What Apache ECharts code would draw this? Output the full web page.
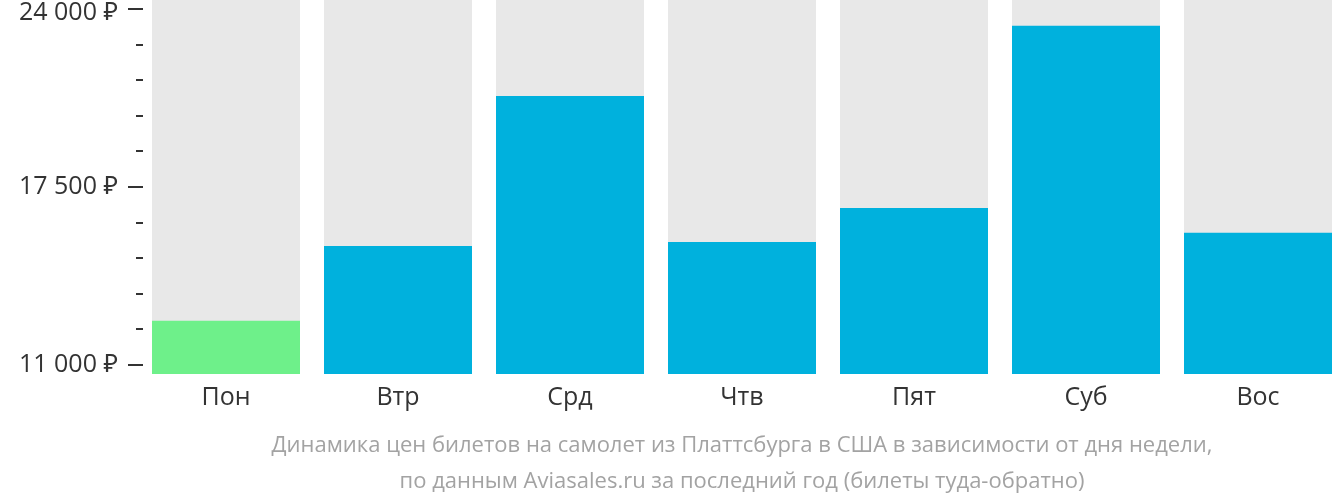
<!DOCTYPE html>
<html><head><meta charset="utf-8">
<script src="https://cdn.jsdelivr.net/npm/echarts@6/dist/echarts.min.js"></script>
<style>html,body{margin:0;padding:0;background:#fff}#c{width:1332px;height:502px}</style>
</head><body><div id="c"></div>
<script>
var categories = ['Пон', 'Втр', 'Срд', 'Чтв', 'Пят', 'Суб', 'Вос'];
var prices = [12610, 15335, 20810, 15480, 16725, 23380, 15820];
var majorTicks = [11000, 17500, 24000];
var minorTicks = [11000, 12300, 13600, 14900, 16200, 17500, 18800, 20100, 21400, 22700, 24000];
var subtitle = ['Динамика цен билетов на самолет из Платтсбурга в США в зависимости от дня недели,',
                'по данным Aviasales.ru за последний год (билеты туда-обратно)'];

var minP = Math.min.apply(null, prices);
var topTick = Math.max.apply(null, majorTicks);
var lowerLabels = majorTicks.filter(function(v){ return v !== topTick; });
var chart = echarts.init(document.getElementById('c'));
function fmt(v){ return String(v).replace(/\B(?=(\d{3})+(?!\d))/g, ' ') + ' ₽'; }
var font = '"Open Sans", "Noto Sans", sans-serif';
var yMin = 10664, yMax = 24318;
function baseY(extra){
  var o = { type: 'value', min: yMin, max: yMax, offset: -3, position: 'left',
    splitLine: { show: false }, axisLine: { show: false } };
  for (var k in extra) o[k] = extra[k];
  return o;
}
chart.setOption({
  animation: false,
  textStyle: { fontFamily: font },
  title: {
    text: subtitle.join('\n'),
    left: 737, top: 423, textAlign: 'center',
    textStyle: { fontFamily: font, fontSize: 22, fontWeight: 'normal', color: '#a3a3a3', lineHeight: 36 }
  },
  grid: { left: 140, top: 0, width: 1204, height: 374, outerBoundsMode: 'none', containLabel: false },
  xAxis: {
    type: 'category', data: categories,
    axisLine: { show: false }, axisTick: { show: false },
    axisLabel: { fontSize: 25, color: '#333', margin: 11, fontFamily: font }
  },
  yAxis: [
    baseY({
      axisTick: { show: true, length: 15, customValues: majorTicks, lineStyle: { color: '#333', width: 2 } },
      axisLabel: { customValues: lowerLabels, formatter: fmt, fontSize: 25, color: '#333', margin: 25, fontFamily: font }
    }),
    baseY({
      axisTick: { show: true, length: 7, customValues: minorTicks, lineStyle: { color: '#333', width: 2 } },
      axisLabel: { show: false }
    }),
    baseY({
      axisTick: { show: false },
      axisLabel: { customValues: [topTick], formatter: function(v){ return '{t|' + fmt(v) + '}'; },
        fontSize: 25, color: '#333', margin: 25, fontFamily: font,
        rich: { t: { fontSize: 25, color: '#333', fontFamily: font, padding: [8, 0, 0, 0] } } }
    })
  ],
  series: [{
    type: 'bar', barWidth: 148, yAxisIndex: 0,
    showBackground: true, backgroundStyle: { color: '#e8e8e8' },
    data: prices.map(function(v){ return { value: v, itemStyle: { color: v === minP ? '#6ef08a' : '#00b1dd' } }; })
  }]
});
</script></body></html>
